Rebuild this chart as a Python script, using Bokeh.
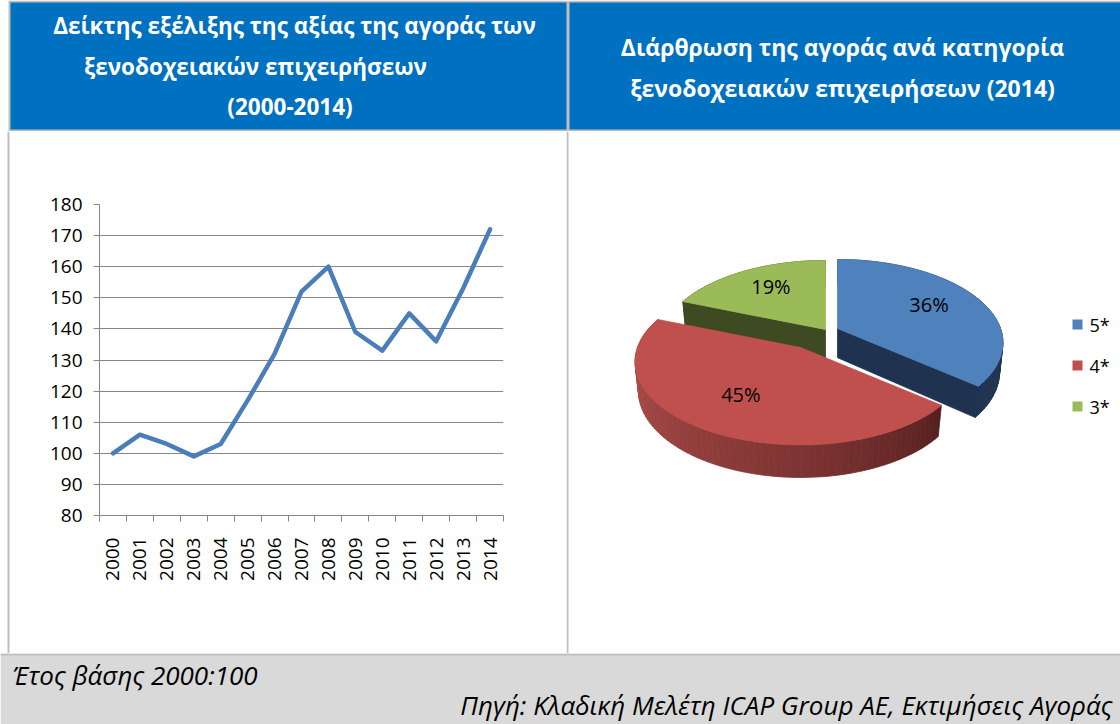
import math
from bokeh.plotting import figure
from bokeh.layouts import column, row
from bokeh.models import Range1d, FixedTicker, SingleIntervalTicker
from bokeh.core.properties import value
from bokeh.embed import file_html
from bokeh.resources import INLINE

# ---------------- data ----------------
years = [2000, 2001, 2002, 2003, 2004, 2005, 2006, 2007, 2008, 2009, 2010, 2011, 2012, 2013, 2014]
index_values = [100, 106, 103, 99, 103, 117, 132, 152, 160, 139, 133, 145, 136, 153, 172]

pie_categories = ["5*", "4*", "3*"]
pie_shares = [36, 45, 19]

left_title = ["Δείκτης εξέλιξης της αξίας της αγοράς των",
              "ξενοδοχειακών επιχειρήσεων",
              "(2000-2014)"]
right_title = ["Διάρθρωση της αγοράς ανά κατηγορία",
               "ξενοδοχειακών επιχειρήσεων (2014)"]
note_text = "Έτος βάσης 2000:100"
source_text = "Πηγή: Κλαδική Μελέτη ICAP Group AE, Εκτιμήσεις Αγοράς"

# ---------------- styles ----------------
FONT = "Open Sans"
BLUE_HDR = "#0070c0"
BORDER = "#bfbfbf"
FOOT_BG = "#d9d9d9"
AXIS_GRAY = "#868686"
LINE_COLOR = "#4a7ebb"
pie_top_colors = ["#4f81bd", "#c0504d", "#9bbb59"]
pie_side_dark = ["#1f3350", "#4a1a1a", "#3e4a21"]
pie_side_light = ["#1f3350", "#b04e4b", "#3e4a21"]


def blank(w, h, x0, x1, y0, y1):
    p = figure(width=w, height=h, x_range=Range1d(x0, x1), y_range=Range1d(y1, y0),
               x_axis_type=None, y_axis_type=None, toolbar_location=None,
               output_backend="svg", min_border=0, outline_line_color=None,
               background_fill_color="white", border_fill_color="white",
               frame_align=False)
    p.grid.visible = False
    return p


# ---------------- header ----------------
hdr = blank(1120, 131, 0, 1120, 0, 131)
hdr.quad(left=[8], right=[1120], top=[0], bottom=[131], fill_color=BORDER, line_color=None)
hdr.quad(left=[10, 569], right=[566, 1120], top=[2, 2], bottom=[129, 129],
         fill_color=BLUE_HDR, line_color=None)
hdr.text(x=[294, 255, 289.5], y=[25, 66, 106], text=left_title,
         text_font=value(FONT), text_font_size="22.5px", text_font_style="bold",
         text_color="white", text_align="center", text_baseline="middle")
hdr.text(x=[842, 842], y=[46, 87], text=right_title,
         text_font=value(FONT), text_font_size="23px", text_font_style="bold",
         text_color="white", text_align="center", text_baseline="middle")

# ---------------- left strip ----------------
strip = blank(10, 522, 0, 10, 131, 653)
strip.quad(left=[7], right=[9], top=[131], bottom=[653], fill_color=BORDER, line_color=None)

# ---------------- line chart ----------------
lp = figure(width=556, height=522, x_range=Range1d(years[0] - 0.5, years[-1] + 0.5),
            y_range=Range1d(80, 180), toolbar_location=None, output_backend="svg",
            min_border_left=89, min_border_right=63, min_border_top=73, min_border_bottom=138,
            outline_line_color=None, background_fill_color="white", border_fill_color="white",
            frame_align=False)
lp.xgrid.visible = False
lp.ygrid.ticker = SingleIntervalTicker(interval=10)
lp.ygrid.grid_line_color = AXIS_GRAY
lp.ygrid.grid_line_width = 1

ya = lp.yaxis[0]
ya.ticker = SingleIntervalTicker(interval=10)
ya.axis_line_color = AXIS_GRAY
ya.major_tick_line_color = AXIS_GRAY
ya.major_tick_out = 6
ya.major_tick_in = 0
ya.minor_tick_line_color = None
ya.major_label_text_font = FONT
ya.major_label_text_font_size = "19px"
ya.major_label_text_color = "black"
ya.major_label_standoff = 11

xa = lp.xaxis[0]
xa.ticker = FixedTicker(ticks=years, minor_ticks=[y - 0.5 for y in years] + [years[-1] + 0.5])
xa.major_label_overrides = {y: str(y) for y in years}
xa.axis_line_color = AXIS_GRAY
xa.major_tick_line_color = None
xa.major_tick_out = 0
xa.major_tick_in = 0
xa.minor_tick_line_color = AXIS_GRAY
xa.minor_tick_out = 6
xa.minor_tick_in = 0
xa.major_label_orientation = math.pi / 2
xa.major_label_text_font = FONT
xa.major_label_text_font_size = "19px"
xa.major_label_text_color = "black"
xa.major_label_standoff = 16

lp.line(years, index_values, line_color=LINE_COLOR, line_width=4.5,
        line_join="round", line_cap="round")

# ---------------- 3D pie ----------------
pp = blank(554, 522, 566, 1120, 131, 653)
pp.quad(left=[566], right=[568], top=[131], bottom=[653], fill_color=BORDER, line_color=None)

PIE_CX, PIE_CY = 830, 331
explode = [(7, -3), (-30, 16), (-5, -2)]
PIE_S = 163.0
PHI = math.radians(29.7)
PIE_D = 5.1
PIE_H = 0.21
COS, SIN = math.cos(PHI), math.sin(PHI)


def proj(ax, ay, X, Y, Z):
    w = Z * COS + Y * SIN
    k = PIE_D / (PIE_D - w)
    return ax + PIE_S * X * k, ay + PIE_S * (Z * SIN - Y * COS) * k


def rim(ax, ay, theta, Y, r=1.0):
    t = math.radians(theta)
    return proj(ax, ay, r * math.sin(t), Y, -r * math.cos(t))


def hex2rgb(h):
    return tuple(int(h[i:i + 2], 16) for i in (1, 3, 5))


def mix(c0, c1, t):
    a, b = hex2rgb(c0), hex2rgb(c1)
    return "#%02x%02x%02x" % tuple(int(round(a[i] + (b[i] - a[i]) * t)) for i in range(3))


total = float(sum(pie_shares))
starts, ends = [], []
acc = 0.0
for s in pie_shares:
    starts.append(acc * 360 / total)
    acc += s
    ends.append(acc * 360 / total)

xs, ys, cols = [], [], []


def add_poly(pts, col):
    xs.append([p[0] for p in pts])
    ys.append([p[1] for p in pts])
    cols.append(col)


order = [2, 0, 1]
for i in order:
    ax, ay = PIE_CX + explode[i][0], PIE_CY + explode[i][1]
    a0, a1 = starts[i], ends[i]
    n = max(2, int((a1 - a0) / 2))
    for j in range(n):
        ta = a0 + (a1 - a0) * j / n
        tb = a0 + (a1 - a0) * (j + 1) / n
        tm = 0.5 * (ta + tb)
        t = min(1.0, max(0.0, (tm - 125.0) / 150.0)) ** 0.7
        col = mix(pie_side_dark[i], pie_side_light[i], t)
        add_poly([rim(ax, ay, ta, 0), rim(ax, ay, tb, 0),
                  rim(ax, ay, tb, -PIE_H), rim(ax, ay, ta, -PIE_H)], col)
    for edge, normal in ((a0, a0 - 90), (a1, a1 + 90)):
        if -math.cos(math.radians(normal)) > 0.05:
            add_poly([proj(ax, ay, 0, 0, 0), rim(ax, ay, edge, 0),
                      rim(ax, ay, edge, -PIE_H), proj(ax, ay, 0, -PIE_H, 0)], pie_side_dark[i])
    m = 80
    pts = [proj(ax, ay, 0, 0, 0)] + [rim(ax, ay, a0 + (a1 - a0) * j / m, 0) for j in range(m + 1)]
    add_poly(pts, pie_top_colors[i])

pp.patches(xs=xs, ys=ys, fill_color=cols, line_color=cols, line_width=0.8)

lx, ly, lt = [], [], []
for i in range(len(pie_shares)):
    ax, ay = PIE_CX + explode[i][0], PIE_CY + explode[i][1]
    mid = 0.5 * (starts[i] + ends[i])
    x, y = rim(ax, ay, mid, 0, r=0.65)
    lx.append(x)
    ly.append(y - 3)
    lt.append(f"{pie_shares[i]}%")
pp.text(x=lx, y=ly, text=lt, text_font=value(FONT), text_font_size="20px",
        text_color="black", text_align="center", text_baseline="middle")

leg_y = [324 + 41 * i for i in range(len(pie_categories))]
pp.scatter(x=[1077] * len(pie_categories), y=leg_y, marker="square", size=10,
           fill_color=pie_top_colors, line_color=None)
pp.text(x=[1089] * len(pie_categories), y=leg_y, text=pie_categories,
        text_font=value(FONT), text_font_size="18px", text_color="black",
        text_align="left", text_baseline="middle")

# ---------------- footer ----------------
ft = blank(1120, 71, 0, 1120, 653, 724)
ft.quad(left=[0], right=[1120], top=[653], bottom=[724], fill_color=FOOT_BG, line_color=None)
ft.quad(left=[0], right=[1120], top=[653], bottom=[655], fill_color=BORDER, line_color=None)
ft.text(x=[12], y=[674], text=[note_text], text_font=value(FONT), text_font_size="26px",
        text_font_style="italic", text_color="black", text_align="left", text_baseline="middle")
ft.text(x=[1112], y=[704], text=[source_text], text_font=value(FONT), text_font_size="26px",
        text_font_style="italic", text_color="black", text_align="right", text_baseline="middle")

layout = column(hdr, row(strip, lp, pp, spacing=0), ft, spacing=0)
open("out.html", "w").write(file_html(layout, INLINE))
